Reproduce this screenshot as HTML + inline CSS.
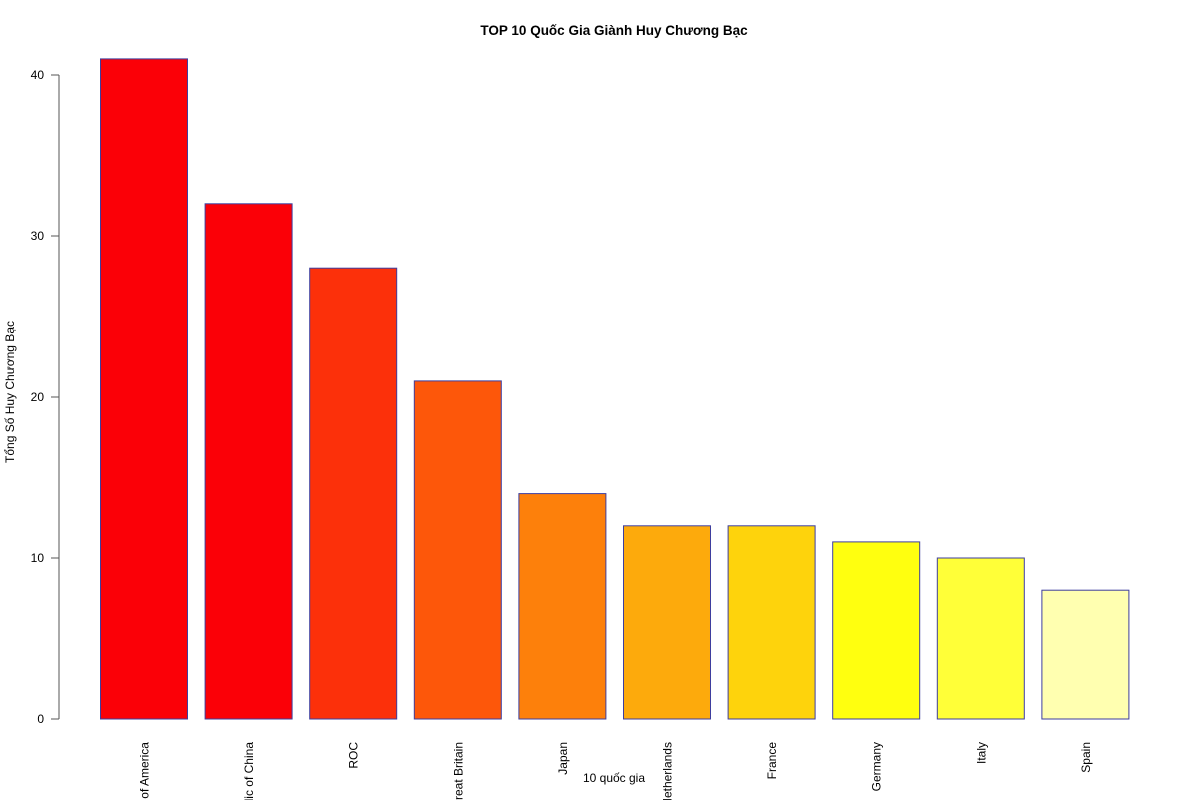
<!DOCTYPE html>
<html>
<head>
<meta charset="utf-8">
<style>
html,body{margin:0;padding:0;background:#fff;width:1200px;height:800px;overflow:hidden;}
svg{display:block;overflow:hidden;font-family:"Liberation Sans","DejaVu Sans",sans-serif;}
</style>
</head>
<body>
<svg id="chart" width="1200" height="800" viewBox="0 0 1200 800">
  <text x="614" y="35" text-anchor="middle" font-size="13.5" font-weight="bold">TOP 10 Quốc Gia Giành Huy Chương Bạc</text>
  <text transform="translate(14,392) rotate(-90)" text-anchor="middle" font-size="12">Tổng Số Huy Chương Bạc</text>
  <text x="614" y="782" text-anchor="middle" font-size="12">10 quốc gia</text>
  <g id="yaxis"></g>
  <g id="bars"></g>
  <g id="xlabels"></g>
</svg>
<script>
const categories = ["United States of America","People's Republic of China","ROC","Great Britain","Japan","Netherlands","France","Germany","Italy","Spain"];
const values = [41, 32, 28, 21, 14, 12, 12, 11, 10, 8];
const colors = ["#FB0007","#FB0007","#FC300A","#FD570A","#FD800B","#FDAA0C","#FED30C","#FFFF0F","#FFFF38","#FFFFB0"];
const yTicks = [0, 10, 20, 30, 40];

const NS = "http://www.w3.org/2000/svg";
const y0 = 719, pxPerUnit = (719 - 75) / 40;
function yScale(v){ return y0 - v * pxPerUnit; }
const barStart = 100, barStep = 104.6, barW = 87;
function xScale(i){ return barStart + i * barStep; }
function mk(tag, attrs, parent){ const e = document.createElementNS(NS, tag); for (const k in attrs) e.setAttribute(k, attrs[k]); parent.appendChild(e); return e; }

const yaxis = document.getElementById('yaxis');
const axLine = mk('line', {x1:59, x2:59, y1:yScale(yTicks[0]), y2:yScale(yTicks[yTicks.length-1]), stroke:'#555', 'stroke-width':1}, yaxis);


yTicks.forEach(t => {
  const tk = mk('line', {x1:51, x2:59, y1:yScale(t), y2:yScale(t), stroke:'#555', 'stroke-width':1}, yaxis);
  
  
  const lb = mk('text', {x:44, y:yScale(t)+4, 'text-anchor':'end', 'font-size':12}, yaxis);
  lb.textContent = t;
  
  
});

const bars = document.getElementById('bars');
const xl = document.getElementById('xlabels');
categories.forEach((c, i) => {
  const r = mk('rect', {x:xScale(i)+0.5, y:yScale(values[i]), width:barW, height:yScale(0)-yScale(values[i]), fill:colors[i], stroke:'#3E3E9E', 'stroke-width':1}, bars);
  
  
  const cx = xScale(i) + barW/2 + 5;
  const t = mk('text', {transform:'translate(' + cx + ',742) rotate(-90)', 'text-anchor':'end', 'font-size':12}, xl);
  t.textContent = c;
  
  
});
</script>
</body>
</html>
